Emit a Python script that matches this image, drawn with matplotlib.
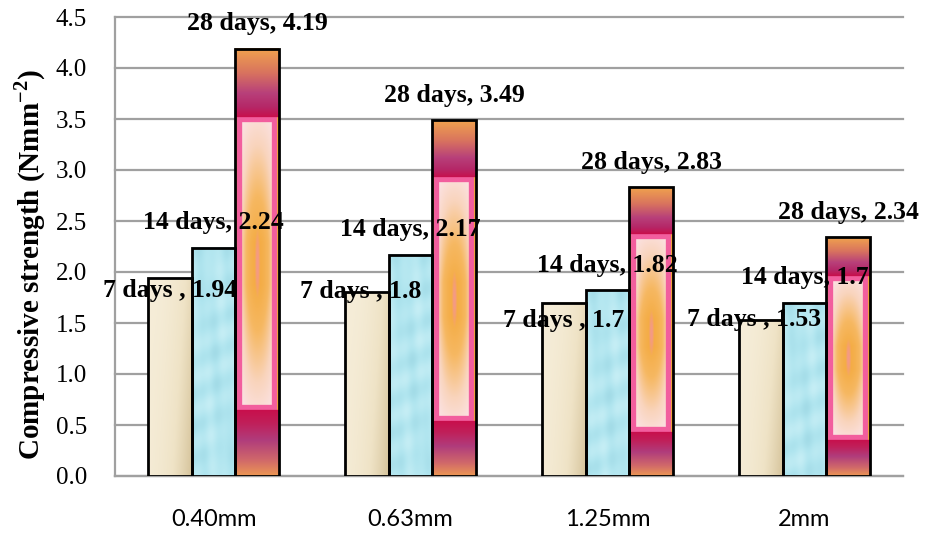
import numpy as np
import matplotlib
matplotlib.use('Agg')
import matplotlib.pyplot as plt
from matplotlib.colors import to_rgb

# ---------------- data ----------------
categories = ['0.40mm', '0.63mm', '1.25mm', '2mm']
series_names = ['7 days ', '14 days', '28 days']
days7 = [1.94, 1.8, 1.7, 1.53]
days14 = [2.24, 2.17, 1.82, 1.7]
days28 = [4.19, 3.49, 2.83, 2.34]
ytick_values = [0.0, 0.5, 1.0, 1.5, 2.0, 2.5, 3.0, 3.5, 4.0, 4.5]
ylabel_text = r'Compressive strength (Nmm$^{\mathbf{-2}}$)'

# label offsets (pixels) -- styling only
label_offsets = [
    [(0, -12), (-6, 1), (0, -18), (-7, 0)],
    [(0, 25), (0, 25), (0, 25), (0, 25)],
    [(0, 25), (0, 25), (0, 25), (0, 25)],
]

plt.rcParams['mathtext.fontset'] = 'custom'
plt.rcParams['mathtext.rm'] = 'Liberation Serif:bold'
plt.rcParams['mathtext.bf'] = 'Liberation Serif:bold'

W_IN, H_IN, DPI = 9.25, 5.33, 100
fig = plt.figure(figsize=(W_IN, H_IN), dpi=DPI)
ax = fig.add_axes([115 / 925, 1 - 476 / 533, (903 - 115) / 925, (476 - 17) / 533])

x = np.arange(len(categories))
bw = 0.223
series = [days7, days14, days28]
offsets = [-bw, 0, bw]

ax.set_xlim(-0.5, len(categories) - 0.5)
ax.set_ylim(0, 4.5)


def ramp(stops, t):
    pos = np.array([s[0] for s in stops])
    cols = np.array([to_rgb(s[1]) for s in stops])
    t = np.clip(t, 0, 1)
    return np.stack([np.interp(t, pos, cols[:, i]) for i in range(3)], axis=-1)


def img_7day(hpx, wpx):
    H, W = max(int(hpx), 2), max(int(wpx), 2)
    v, u = np.mgrid[0:1:H * 1j, 0:1:W * 1j]
    t = 0.08 + 0.55 * u ** 2 + 0.3 * v * u + 0.08 * v
    return ramp([(0, '#F7EFDC'), (0.5, '#EFE3C6'), (1, '#D6C49C')], t)


def img_14day(hpx, wpx):
    H, W = max(int(hpx), 2), max(int(wpx), 2)
    yy, xx = np.mgrid[0:H, 0:W].astype(float)
    t = (0.45 + 0.16 * np.sin(xx / 7.1 + yy / 13.0) * np.cos(yy / 9.3 - xx / 11.7)
         + 0.10 * np.sin(xx / 5.7 - yy / 8.9) * np.sin(yy / 10.1 + xx / 3.3))
    return ramp([(0, '#D4F4F9'), (0.5, '#B0E5EF'), (1, '#90CEDC')], t)


def img_28day(hpx, wpx):
    H, W = max(int(hpx), 2), max(int(wpx), 2)
    yy, xx = np.mgrid[0:H, 0:W].astype(float)
    img = np.zeros((H, W, 3))
    img[:] = to_rgb('#F25E9E')
    band_t = 0.16 * H
    band_b = 0.155 * H
    frame = 5.0
    edge = 2.0
    side = (xx < edge) | (xx >= W - edge)
    img[side] = to_rgb('#F2A040')
    topm = yy < band_t
    s = yy / band_t
    img[topm] = ramp([(0, '#F0A24E'), (0.35, '#D9745E'), (0.65, '#B8407A'),
                      (0.85, '#B52868'), (1, '#C80F4C')], s)[topm]
    botm = yy >= H - band_b
    s2 = (yy - (H - band_b)) / band_b
    img[botm] = ramp([(0, '#C80F4C'), (0.2, '#C0205A'), (0.45, '#B03C7C'),
                      (0.75, '#D0686A'), (1, '#EE9A52')], s2)[botm]
    it, ib = band_t + frame, H - band_b - frame
    il, ir = edge + frame, W - edge - frame
    inner = (yy >= it) & (yy < ib) & (xx >= il) & (xx < ir)
    p = (yy - it) / max(ib - it, 1)
    q = (xx - il) / max(ir - il, 1)
    d = np.abs(p - 0.5) * 2
    dh = np.abs(q - 0.5) * 2
    fv = np.clip(1.15 - d, 0, 1) ** 0.9
    fh = 1 - 0.55 * dh ** 2
    t = fv * fh
    col = ramp([(0, '#FCE6EE'), (0.35, '#F9D4BC'), (0.7, '#F6B862'), (1, '#F4AC44')], t)
    hl = np.clip(1 - (dh / 0.18) ** 2 - (d / 0.25) ** 2, 0, 1)[..., None]
    col = col * (1 - 0.6 * hl) + np.array(to_rgb('#F48CB8')) * 0.6 * hl
    img[inner] = col[inner]
    return img


makers = [img_7day, img_14day, img_28day]

fig.canvas.draw()
to_px = ax.transData

for si, (vals, off, mk) in enumerate(zip(series, offsets, makers)):
    bars = ax.bar(x + off, vals, width=bw, facecolor='none', edgecolor='black',
                  linewidth=2.0, zorder=4, label=series_names[si])
    for bi, patch in enumerate(bars):
        x0, w, h = patch.get_x(), patch.get_width(), patch.get_height()
        p0 = to_px.transform((x0, 0))
        p1 = to_px.transform((x0 + w, h))
        wpx, hpx = p1[0] - p0[0], p1[1] - p0[1]
        im = mk(hpx, wpx)
        ax.imshow(im, extent=(x0, x0 + w, 0, h), aspect='auto', zorder=3,
                  interpolation='bilinear')
    for bi, (xi, v) in enumerate(zip(x + off, vals)):
        dx, dy = label_offsets[si][bi]
        ax.annotate(f'{series_names[si]}, {v:g}', xy=(xi, v),
                    xytext=(dx * 0.72, dy * 0.72), textcoords='offset points',
                    ha='center', va='center', fontsize=18.5, fontweight='bold',
                    family='Liberation Serif', color='black', zorder=6,
                    annotation_clip=False)

ax.set_xlim(-0.5, len(categories) - 0.5)
ax.set_ylim(0, 4.5)
ax.set_aspect('auto')

ax.set_yticks(ytick_values)
ax.set_yticklabels([f'{v:.1f}' for v in ytick_values], family='Liberation Serif',
                   fontsize=18)
ax.set_xticks(x)
ax.set_xticklabels(categories, family='Lato', fontsize=17)
ax.tick_params(axis='y', length=0, pad=20)
ax.tick_params(axis='x', length=0, pad=24)

ax.yaxis.grid(True, color='#A0A0A0', linewidth=1.6, zorder=0)
for gl in ax.get_ygridlines():
    gl.set_clip_on(False)
ax.set_axisbelow(True)
for sp in ['top', 'right']:
    ax.spines[sp].set_visible(False)
for sp in ['left', 'bottom']:
    ax.spines[sp].set_color('#A0A0A0')
    ax.spines[sp].set_linewidth(1.6)

fig.text(30 / 925, 1 - 265 / 533, ylabel_text, rotation=90, ha='center', va='center',
         fontsize=21, fontweight='bold', family='Liberation Serif')

fig.savefig('out.png', dpi=DPI)
